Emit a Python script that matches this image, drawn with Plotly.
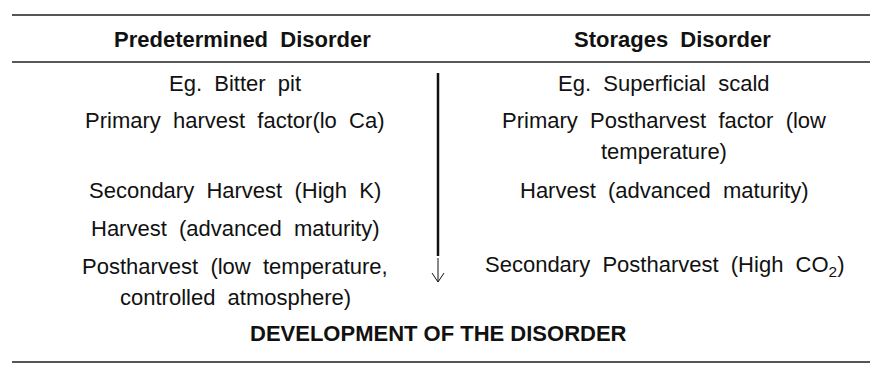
import plotly.graph_objects as go

W, H = 878, 368
OFF = 8  # page body margin

headers = ["Predetermined  Disorder", "Storages  Disorder"]
left_rows = ["Eg.  Bitter  pit", "Primary  harvest  factor(lo  Ca)",
             "Secondary  Harvest  (High  K)", "Harvest  (advanced  maturity)",
             "Postharvest  (low  temperature,", "controlled  atmosphere)"]
left_y = [83, 120, 190, 228, 266, 297]
right_rows = ["Eg.  Superficial  scald",
              "Primary  Postharvest  factor  (low", "temperature)",
              "Harvest  (advanced  maturity)",
              "Secondary  Postharvest  (High  CO<sub>2</sub>)"]
right_y = [83, 120, 151, 190, 266]
footer = "DEVELOPMENT OF THE DISORDER"

head_x = [242, 672]
col_x = [235, 664]
mid_x = 438
FONT = "Liberation Sans, Arial, Helvetica, sans-serif"
BODY = 22
HEAD = 22
FOOT = 22

fig = go.Figure()
fig.add_trace(go.Scatter(x=[0, W], y=[0, H], mode="markers",
                         marker=dict(opacity=0), hoverinfo="skip", showlegend=False))

ann = []
for hx, h in zip(head_x, headers):
    ann.append(dict(x=hx, y=39, text="<b>" + h + "</b>", showarrow=False,
                    font=dict(size=HEAD, color="#111", family=FONT)))
for t, y in zip(left_rows, left_y):
    ann.append(dict(x=col_x[0], y=y, text=t, showarrow=False,
                    font=dict(size=BODY, color="#111", family=FONT)))
for t, y in zip(right_rows, right_y):
    ann.append(dict(x=col_x[1], y=y, text=t, showarrow=False,
                    font=dict(size=BODY, color="#111", family=FONT)))
ann.append(dict(x=mid_x, y=333, text="<b>" + footer + "</b>", showarrow=False,
                font=dict(size=FOOT, color="#111", family=FONT)))

shapes = []
for y, w, c in [(6, 1.5, "#222"), (15, 2, "#555"), (62, 1.5, "#222"), (362, 2, "#555")]:
    shapes.append(dict(type="line", x0=12, x1=W + OFF, y0=y, y1=y,
                       line=dict(color=c, width=w)))
# thick vertical stem, thin arrow tail with open head
shapes.append(dict(type="line", x0=mid_x, x1=mid_x, y0=73, y1=256,
                   line=dict(color="#111", width=2.5)))
shapes.append(dict(type="line", x0=mid_x, x1=mid_x, y0=258, y1=282,
                   line=dict(color="#111", width=1)))
for dx in (-6, 6):
    shapes.append(dict(type="line", x0=mid_x + dx, x1=mid_x, y0=273, y1=282,
                       line=dict(color="#111", width=1)))

fig.update_layout(
    width=W, height=H, margin=dict(l=0, r=0, t=0, b=0),
    paper_bgcolor="white", plot_bgcolor="white",
    xaxis=dict(range=[OFF, W + OFF], visible=False, fixedrange=True),
    yaxis=dict(range=[H + OFF, OFF], visible=False, fixedrange=True),
    annotations=ann, shapes=shapes, showlegend=False,
)
fig.write_html("out.html")
